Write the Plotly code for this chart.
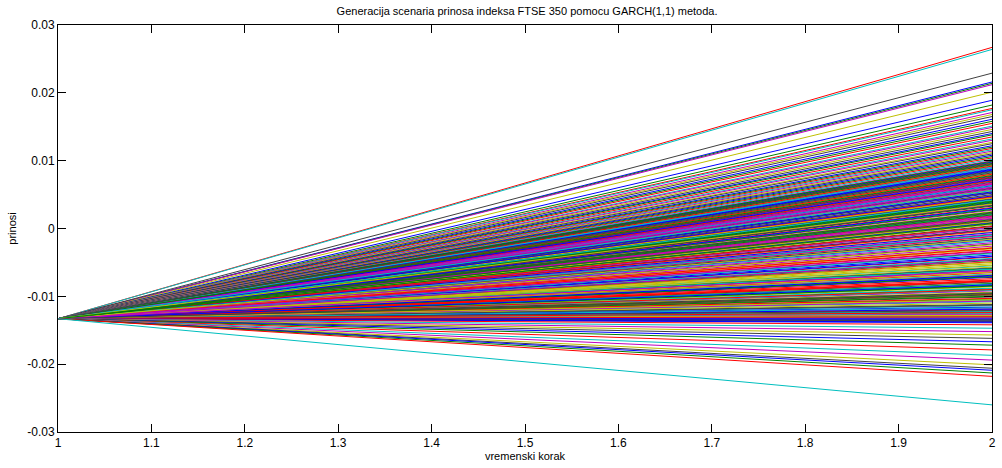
import plotly.graph_objects as go

# Scenario data: every scenario starts at the same return at step 1
step_start = 1
step_end = 2
start_return = -0.0133

# End returns at step 2, upper sparse part, in scenario order
end_top = [0.0216, 0.0214, 0.0267, 0.0264, 0.0212, 0.0201, 0.0229, 0.0189,
           0.0182, 0.0177, 0.0175, 0.0171, 0.0168, 0.0165, 0.0161, 0.0158,
           0.0155, 0.0151, 0.0149, 0.0146, 0.0143, 0.0140, 0.0138, 0.0135,
           0.0132, 0.0130, 0.0127, 0.0125, 0.0122, 0.0120, 0.0118, 0.0116,
           0.0114, 0.0112, 0.0110, 0.0108, 0.0106, 0.0104, 0.0102, 0.0100]

# Dense middle band, in units of 1e-4, in scenario order
end_mid_e4 = [
    57, -23, 88, -104, 12, -67, 35, -131, 74, -2, -89, 46, 21, -118, 93, -45, 63, -9, -76, 29,
    -126, 81, 4, -58, 40, -97, 69, -33, 16, -112, 52, -81, 97, -15, -63, 25, -137, 77, 8, -49,
    -108, 60, -28, 85, -72, 33, -120, 2, -92, 49, 71, -39, -134, 18, -55, 90, -5, -101, 38, -84,
    66, -19, -127, 55, 11, -70, 94, -42, -114, 27, 79, -61, 43, -96, -12, 62, -133, 6, -79, 86,
    -36, 31, -106, 73, -52, -1, 98, -123, 47, -88, 14, -30, 68, -116, 22, -65, 83, -8, -99, 53,
    -139, 37, -74, 91, -26, -110, 59, 9, -47, 76, -129, 19, -86, 44, -17, -59, 70, -122, 1, -94,
    84, -41, 28, -103, 64, -11, -68, 50, -135, 96, -32, -82, 15, -54, 75, -119, 41, -3, -91, 58,
    -24, -113, 87, 24, -77, -44, 65, -128, 34, -6, -100, 80, -60, -21, 10, -136, 54, -71, 92, -37,
    -107, 45, -14, 72, -85, 3, -125, 61, -50, -95, 30, 99, -29, -117, 17, -64, 82, -132, 39, -78,
    -10, 67, -57, -121, 48, 7, -90, 89, -35, -105, 23, -69, 78, -130, 56, -46, -16, 95, -83, 13,
    -124, 42, -62, 36, -98, -138, 20,
]

# Lower sparse part
end_low = [-0.0142, -0.0147, -0.0152, -0.0157, -0.0162, -0.0167, -0.0172,
           -0.0179, -0.0187, -0.0194, -0.0201, -0.0206, -0.0209, -0.0213,
           -0.0218, -0.0260]

x_ticks = [1, 1.1, 1.2, 1.3, 1.4, 1.5, 1.6, 1.7, 1.8, 1.9, 2]
x_tick_labels = ["1", "1.1", "1.2", "1.3", "1.4", "1.5", "1.6", "1.7", "1.8", "1.9", "2"]
y_ticks = [-0.03, -0.02, -0.01, 0, 0.01, 0.02, 0.03]
y_tick_labels = ["-0.03", "-0.02", "-0.01", "0", "0.01", "0.02", "0.03"]

title_text = "Generacija scenaria prinosa indeksa FTSE 350 pomocu GARCH(1,1) metoda."
x_label = "vremenski korak"
y_label = "prinosi"

# MATLAB classic colour order
color_order = ["#0000FF", "#008000", "#FF0000", "#00BFBF", "#BF00BF", "#BFBF00", "#404040"]

end_mid = [v * 1e-4 for v in end_mid_e4]
end_values = end_top + end_mid + end_low

fig = go.Figure()
for i, ev in enumerate(end_values):
    fig.add_trace(go.Scatter(
        x=[step_start, step_end], y=[start_return, ev], mode="lines",
        line=dict(color=color_order[i % len(color_order)], width=1),
        showlegend=False, hoverinfo="skip"))

font_family = "Liberation Sans, Arial, sans-serif"
fig.update_layout(
    width=1002, height=468,
    margin=dict(l=58, r=6, t=25, b=36),
    paper_bgcolor="white", plot_bgcolor="white",
    font=dict(family=font_family, size=12, color="black"),
    title=dict(text=title_text, x=0.526, xanchor="center", y=0.985, yanchor="top",
               font=dict(size=11, family=font_family, color="black")),
    showlegend=False,
)
fig.update_xaxes(
    range=[1, 2], tickvals=x_ticks, ticktext=x_tick_labels,
    ticks="inside", ticklen=8, tickcolor="black", showgrid=False, zeroline=False,
    showline=True, linecolor="black", linewidth=1, mirror="ticks",
    title=dict(text=x_label, standoff=2, font=dict(size=11)),
    tickfont=dict(size=12),
)
fig.update_yaxes(
    range=[-0.03, 0.03], tickvals=y_ticks, ticktext=y_tick_labels,
    ticks="inside", ticklen=8, tickcolor="black", showgrid=False, zeroline=False,
    showline=True, linecolor="black", linewidth=1, mirror="ticks",
    title=dict(text=y_label, standoff=8, font=dict(size=11)),
    tickfont=dict(size=12),
)

fig.write_html("out.html")
